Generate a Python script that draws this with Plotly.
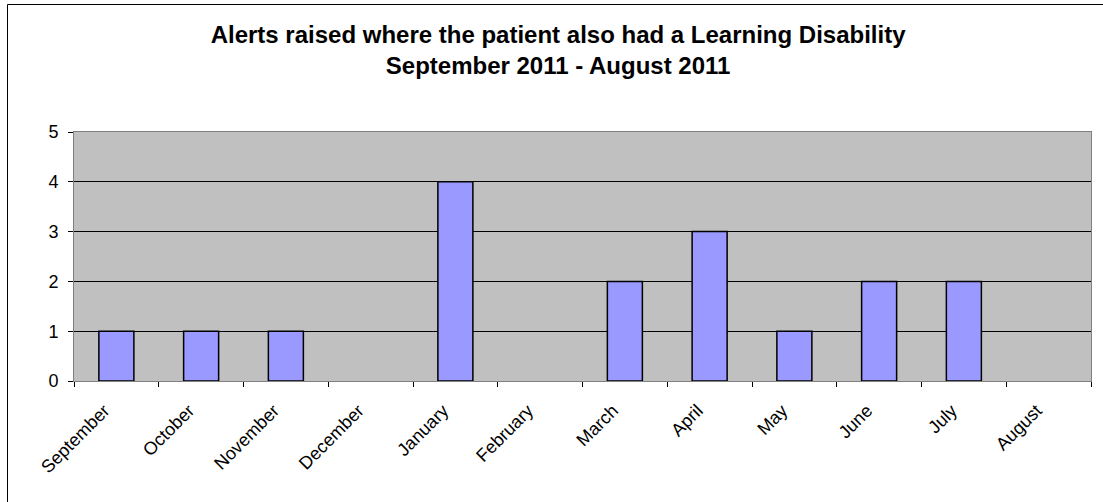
import plotly.graph_objects as go

months = ["September", "October", "November", "December", "January", "February",
          "March", "April", "May", "June", "July", "August"]
alerts = [1, 1, 1, 0, 4, 0, 2, 3, 1, 2, 2, 0]
y_ticks = [0, 1, 2, 3, 4, 5]

W, H = 1103, 502
L, R, T, B = 74, 12, 132, 121
pw, ph = W - L - R, H - T - B


def px_to_paper_x(px):
    return (px - L) / pw


def px_to_paper_y(py):
    return (H - B - py) / ph


# Empty months get no outline so nothing is drawn at zero
outline_widths = [1.5 if v > 0 else 0 for v in alerts]

fig = go.Figure()
fig.add_trace(go.Bar(
    x=months,
    y=alerts,
    marker=dict(color="#9999FF", line=dict(color="#000000", width=outline_widths)),
    showlegend=False,
))

fig.update_layout(
    width=W,
    height=H,
    margin=dict(l=L, r=R, t=T, b=B),
    paper_bgcolor="#FFFFFF",
    plot_bgcolor="#C0C0C0",
    font=dict(family="Liberation Sans, Arial, sans-serif", color="#000000", size=16),
    bargap=0.587,
    title=dict(
        text="<b>Alerts raised where the patient also had a Learning Disability<br>"
             "September 2011 - August 2011</b>",
        x=0.506,
        xanchor="center",
        y=1 - 43 / H,
        yanchor="top",
        font=dict(size=24, family="Liberation Sans, Arial, sans-serif", color="#000000"),
    ),
    xaxis=dict(
        type="category",
        tickangle=-45,
        ticks="outside",
        tickson="boundaries",
        ticklen=5,
        tickcolor="#000000",
        ticklabelshift=-12,
        ticklabelstandoff=11,
        showgrid=False,
        showline=True,
        linecolor="#808080",
        linewidth=1,
        mirror=True,
        tickfont=dict(size=18),
    ),
    yaxis=dict(
        range=[0, 5],
        tickvals=y_ticks,
        ticks="outside",
        ticklen=5,
        tickcolor="#000000",
        ticklabelstandoff=6,
        showgrid=True,
        gridcolor="#000000",
        gridwidth=1,
        zeroline=False,
        showline=True,
        linecolor="#808080",
        linewidth=1,
        mirror=True,
        tickfont=dict(size=18),
    ),
    shapes=[dict(
        type="rect",
        xref="paper",
        yref="paper",
        x0=px_to_paper_x(7.5),
        x1=px_to_paper_x(W + 5),
        y0=px_to_paper_y(H + 5),
        y1=px_to_paper_y(4.5),
        line=dict(color="#000000", width=1),
        fillcolor="rgba(0,0,0,0)",
        layer="below",
    )],
)

fig.write_html("out.html")
